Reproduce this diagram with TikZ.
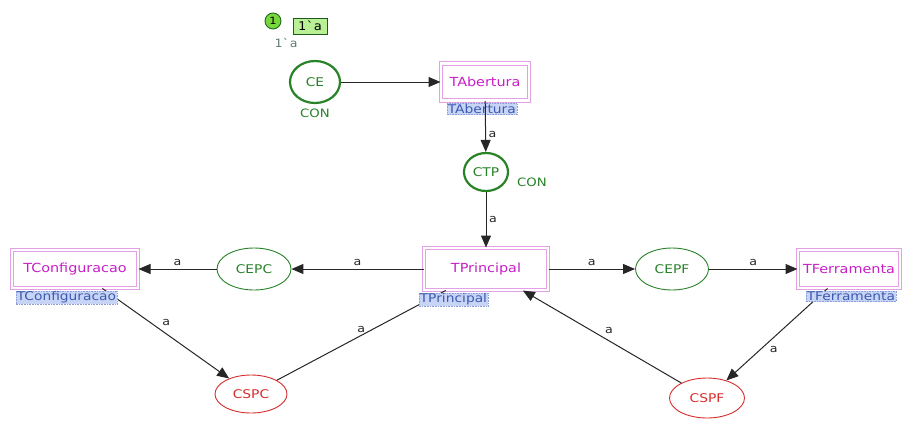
\documentclass[tikz,border=0pt]{standalone}
\usepackage{fontspec}
\setmainfont{DejaVu Sans}[FakeStretch=1.15]
\setmonofont{DejaVu Sans Mono}[FakeStretch=1.1]
\usetikzlibrary{shapes.geometric,arrows.meta}
\definecolor{pgreen}{RGB}{40,130,40}
\definecolor{pred}{RGB}{215,45,45}
\definecolor{tmag}{RGB}{200,30,200}
\definecolor{tborder}{RGB}{228,160,228}
\definecolor{lblfill}{RGB}{200,212,245}
\definecolor{lbldraw}{RGB}{140,160,215}
\definecolor{lbltext}{RGB}{60,90,175}
\definecolor{tokfill}{RGB}{120,215,60}
\definecolor{tokbfill}{RGB}{185,240,150}
\definecolor{inscol}{RGB}{95,125,115}
\begin{document}
\begin{tikzpicture}[x=1pt,y=-1pt,
  place/.style={ellipse, draw=pgreen, text=pgreen, fill=white, inner sep=0pt,
    font=\fontsize{12}{14}\selectfont},
  mainplace/.style={place, line width=2.2pt},
  sideplace/.style={place, line width=0.9pt},
  redplace/.style={place, draw=pred, text=pred, line width=0.9pt},
  trans/.style={rectangle, draw=tborder, double=white, double distance=2.4pt,
    line width=1pt, fill=white, text=tmag, inner sep=0pt,
    font=\fontsize{12.5}{14}\selectfont},
  tlabel/.style={rectangle, fill=lblfill, draw=lbldraw, densely dotted, line width=0.6pt,
    text=lbltext, inner sep=1pt, font=\fontsize{12}{12.5}\selectfont, anchor=north west},
  conlbl/.style={text=pgreen, font=\fontsize{11.5}{13}\selectfont, inner sep=0pt},
  arc/.style={draw=black!85, line width=1pt, -{Triangle[length=12pt,width=10pt]}},
  plainarc/.style={draw=black!85, line width=1pt},
  lbl/.style={font=\fontsize{11}{13}\selectfont, inner sep=2.5pt, text=black!85},
  tokcirc/.style={circle, draw=pgreen!80!black, fill=tokfill, line width=0.9pt,
    minimum size=16pt, inner sep=0pt, font=\fontsize{10}{11}\selectfont},
  tokbox/.style={rectangle, draw=pgreen!70!black, fill=tokbfill, line width=0.9pt,
    minimum width=34pt, minimum height=16pt, inner sep=0pt,
    font=\ttfamily\fontsize{12}{13}\selectfont},
  initlbl/.style={text=inscol, inner sep=0pt, font=\ttfamily\fontsize{11.5}{12}\selectfont}
]
\useasboundingbox (0,0) rectangle (907,421);

% token and initial marking
\node[tokcirc] (tok) at (273,21) {1};
\node[tokbox] (tokb) at (310,26) {1\char96 a};
\node[initlbl] (init) at (286,43) {1\char96 a};

% places
\node[mainplace, minimum width=50pt, minimum height=42pt] (CE) at (315,82) {CE};
\node[conlbl] (CEcon) at (315,113) {CON};
\node[mainplace, minimum width=44pt, minimum height=38pt] (CTP) at (486,172) {CTP};
\node[conlbl] (CTPcon) at (532,182) {CON};
\node[sideplace, minimum width=74pt, minimum height=42pt] (CEPC) at (254,269) {CEPC};
\node[sideplace, minimum width=73pt, minimum height=42pt] (CEPF) at (672,269) {CEPF};
\node[redplace, minimum width=72pt, minimum height=38pt] (CSPC) at (251,394) {CSPC};
\node[redplace, minimum width=75pt, minimum height=40pt] (CSPF) at (707,398) {CSPF};

% transitions
\node[trans, minimum width=88pt, minimum height=37pt] (TA) at (485,82) {TAbertura};
\node[trans, minimum width=124pt, minimum height=42pt] (TP) at (486,269) {TPrincipal};
\node[trans, minimum width=126pt, minimum height=38pt] (TC) at (75,269) {TConfiguracao};
\node[trans, minimum width=102pt, minimum height=38pt] (TF) at (849,269) {TFerramenta};

% arcs
\draw[arc] (CE) -- (TA);
\draw[arc] (CTP) -- node[lbl, right] {a} (TP);
\draw[arc] (TP) -- node[lbl, above] {a} (CEPC);
\draw[arc] (CEPC) -- node[lbl, above] {a} (TC);
\draw[arc] (TC) -- node[lbl, pos=0.45, above right] {a} (CSPC);
\draw[plainarc] (TP) -- node[lbl, pos=0.5, above] {a} (CSPC);
\draw[arc] (TP) -- node[lbl, above] {a} (CEPF);
\draw[arc] (CEPF) -- node[lbl, above] {a} (TF);
\draw[arc] (TF) -- node[lbl, pos=0.6, below right] {a} (CSPF);
\draw[arc] (CSPF) -- node[lbl, pos=0.5, above right] {a} (TP);

% transition name labels
\node[tlabel] (lTA) at ([xshift=6pt, yshift=-2pt]TA.south west) {TAbertura};
\node[tlabel] (lTP) at ([xshift=-5pt, yshift=-2pt]TP.south west) {TPrincipal};
\node[tlabel] (lTC) at ([xshift=4pt, yshift=-2pt]TC.south west) {TConfiguracao};
\node[tlabel] (lTF) at ([xshift=8pt, yshift=-2pt]TF.south west) {TFerramenta};

\draw[arc] (TA) -- node[lbl, pos=0.65, right] {a} (CTP);
\end{tikzpicture}
\end{document}
